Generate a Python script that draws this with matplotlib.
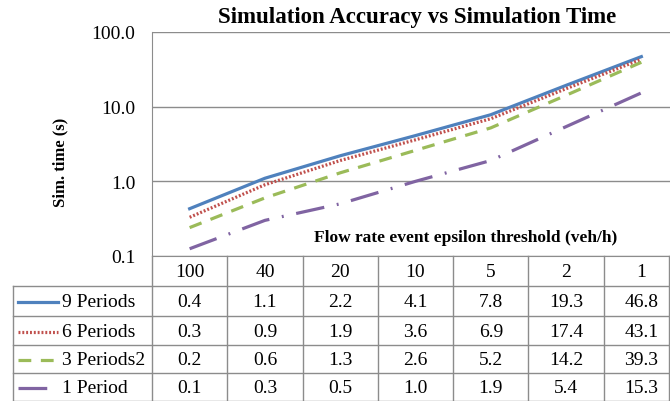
import matplotlib
matplotlib.use("Agg")
import matplotlib.pyplot as plt
from matplotlib.lines import Line2D

plt.rcParams['font.family'] = ['Liberation Serif', 'DejaVu Serif']

thresholds = ['100', '40', '20', '10', '5', '2', '1']
series_names = ['9 Periods', '6 Periods', '3 Periods2', '1 Period']
p9 = [0.4, 1.1, 2.2, 4.1, 7.8, 19.3, 46.8]
p6 = [0.3, 0.9, 1.9, 3.6, 6.9, 17.4, 43.1]
p3 = [0.2, 0.6, 1.3, 2.6, 5.2, 14.2, 39.3]
p1 = [0.1, 0.3, 0.5, 1.0, 1.9, 5.4, 15.3]

# plotted line values (table is rounded)
p9_line = [0.43, 1.1, 2.2, 4.1, 7.8, 19.3, 46.8]
p6_line = [0.33, 0.9, 1.9, 3.6, 6.9, 17.4, 43.1]
p3_line = [0.24, 0.6, 1.3, 2.6, 5.2, 14.2, 39.3]
p1_line = [0.125, 0.3, 0.5, 1.0, 1.9, 5.4, 15.3]

colors = ['#4F81BD', '#C0504D', '#9BBB59', '#8064A2']
styles = [dict(linestyle='-'),
          dict(linestyle=(0, (0.6, 0.6))),
          dict(linestyle=(0, (4, 3))),
          dict(linestyle=(0, (9, 4, 0.6, 4)))]

W, H = 670, 402
fig = plt.figure(figsize=(W / 100, H / 100), dpi=100)

# plot area in pixels
L, R, T, B = 152, 679, 33, 257
ax = fig.add_axes([L / W, (H - B) / H, (R - L) / W, (B - T) / H])

x = list(range(len(thresholds)))
for vals, c, st in zip([p9_line, p6_line, p3_line, p1_line], colors, styles):
    ax.plot(x, vals, color=c, linewidth=2.3, **st)

ax.set_yscale('log')
ax.set_ylim(0.1, 100)
ax.set_xlim(-0.5, len(thresholds) - 0.5)
ax.set_yticks([0.1, 1, 10, 100])
ax.set_yticklabels(['0.1', '1.0', '10.0', '100.0'], fontsize=14)
ax.minorticks_off()
ax.yaxis.set_tick_params(length=0, pad=12)
ax.set_xticks([])
ax.grid(axis='y', color='#8c8c8c', linewidth=1)
for s in ['top', 'right']:
    ax.spines[s].set_visible(False)
ax.spines['left'].set_color('#8c8c8c')
ax.spines['bottom'].set_color('#8c8c8c')

ax.text(0.595, 0.085, 'Flow rate event epsilon threshold (veh/h)', transform=ax.transAxes,
        ha='center', va='center', fontsize=12.5, fontweight='bold')
fig.text(60 / W, 1 - 162 / H, 'Sim. time (s)', rotation=90, ha='center', va='center',
         fontsize=12, fontweight='bold')
fig.text(417 / W, 1 - 17 / H, 'Simulation Accuracy vs Simulation Time', ha='center',
         va='center', fontsize=16.5, fontweight='bold')

# data table below the plot, drawn in pixel coordinates
tb = fig.add_axes([0, 0, 1, 1])
tb.set_xlim(0, W)
tb.set_ylim(H, 0)
tb.axis('off')
gc = '#8c8c8c'
col_w = (R - L) / len(thresholds)
row_y = [257, 287, 317, 346, 374, 402]
label_left = 13
for i in range(len(thresholds) + 1):
    xx = min(L + i * col_w, 669)
    tb.plot([xx, xx], [row_y[0], H], color=gc, linewidth=1)
for j, yy in enumerate(row_y[1:]):
    tb.plot([label_left, 669], [yy, yy], color=gc, linewidth=1)
tb.plot([label_left, label_left], [row_y[1], H], color=gc, linewidth=1)

for i, t in enumerate(thresholds):
    tb.text(L + (i + 0.5) * col_w, (row_y[0] + row_y[1]) / 2 + 1, t, ha='center',
            va='center', fontsize=14)
for r, (name, vals) in enumerate(zip(series_names, [p9, p6, p3, p1])):
    yc = (row_y[r + 1] + row_y[r + 2]) / 2 + 1
    tb.add_line(Line2D([18, 58], [yc, yc], color=colors[r], linewidth=2.3, **styles[r]))
    tb.text(62, yc, name, ha='left', va='center', fontsize=14)
    for i, v in enumerate(vals):
        tb.text(L + (i + 0.5) * col_w, yc, f'{v:.1f}', ha='center', va='center', fontsize=14)

fig.savefig('out.png', dpi=100)
